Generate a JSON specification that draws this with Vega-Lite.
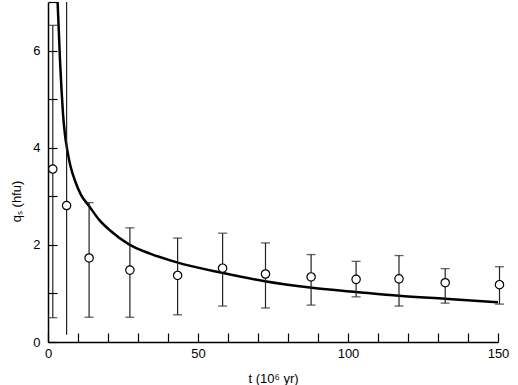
{
  "$schema": "https://vega.github.io/schema/vega-lite/v6.json",
  "width": 450,
  "height": 340,
  "autosize": {"type": "none"},
  "padding": {"left": 48, "top": 2, "right": 20, "bottom": 43},
  "background": "white",
  "config": {
    "view": {"stroke": null},
    "font": "Liberation Sans",
    "axis": {"grid": false, "domainColor": "black", "domainWidth": 1.5, "tickColor": "black", "tickWidth": 1.2, "labelColor": "black", "titleColor": "black", "labelFont": "Liberation Sans", "titleFont": "Liberation Sans", "labelFontSize": 13, "titleFontSize": 13, "titleFontWeight": "normal", "labelOverlap": false}
  },
  "datasets": {
    "curve": [
      {"t": 3.2, "q": 7.0}, {"t": 3.6, "q": 6.4}, {"t": 4.0, "q": 5.8}, {"t": 4.5, "q": 5.2},
      {"t": 5.0, "q": 4.7}, {"t": 5.6, "q": 4.3}, {"t": 6.4, "q": 3.96}, {"t": 7.5, "q": 3.62},
      {"t": 9.0, "q": 3.32}, {"t": 11.0, "q": 3.03}, {"t": 13.7, "q": 2.8}, {"t": 17, "q": 2.52},
      {"t": 21, "q": 2.28}, {"t": 27, "q": 2.01}, {"t": 34, "q": 1.82}, {"t": 43, "q": 1.64},
      {"t": 58.4, "q": 1.42}, {"t": 72.3, "q": 1.25}, {"t": 87.3, "q": 1.12}, {"t": 102.7, "q": 1.03},
      {"t": 117, "q": 0.95}, {"t": 132.3, "q": 0.89}, {"t": 150, "q": 0.82}
    ],
    "pts": [
      {"t": 1.6, "q": 3.56, "lo": 0.5, "hi": 6.52, "cap": true},
      {"t": 6.2, "q": 2.81, "lo": 0.15, "hi": 7.0, "cap": false},
      {"t": 13.7, "q": 1.73, "lo": 0.51, "hi": 2.87, "cap": true},
      {"t": 27.3, "q": 1.48, "lo": 0.51, "hi": 2.35, "cap": true},
      {"t": 43.2, "q": 1.37, "lo": 0.56, "hi": 2.14, "cap": true},
      {"t": 58.2, "q": 1.52, "lo": 0.74, "hi": 2.24, "cap": true},
      {"t": 72.5, "q": 1.4, "lo": 0.7, "hi": 2.04, "cap": true},
      {"t": 87.7, "q": 1.34, "lo": 0.76, "hi": 1.8, "cap": true},
      {"t": 102.7, "q": 1.29, "lo": 0.93, "hi": 1.66, "cap": true},
      {"t": 117, "q": 1.3, "lo": 0.74, "hi": 1.78, "cap": true},
      {"t": 132.4, "q": 1.22, "lo": 0.8, "hi": 1.51, "cap": true},
      {"t": 150.5, "q": 1.18, "lo": 0.78, "hi": 1.55, "cap": true}
    ]
  },
  "resolve": {"axis": {"x": "independent", "y": "independent"}},
  "layer": [
    {
      "data": {"name": "curve"},
      "mark": {"type": "line", "color": "black", "strokeWidth": 2.5, "interpolate": "monotone", "clip": true},
      "encoding": {
        "x": {"field": "t", "type": "quantitative", "scale": {"domain": [0, 150], "nice": false, "zero": true},
          "axis": {"orient": "bottom", "values": [0, 50, 100, 150], "tickSize": -9, "labelPadding": 14, "labelFlush": false, "title": "t (10⁶ yr)", "titlePadding": 12}},
        "y": {"field": "q", "type": "quantitative", "scale": {"domain": [0, 7], "nice": false},
          "axis": {"orient": "left", "values": [0, 2, 4, 6], "tickSize": -9, "labelPadding": 17, "title": "qₛ  (hfu)", "titleY": 199, "titleX": -25, "titleAngle": -90, "titleBaseline": "bottom", "titleAlign": "center"}}
      }
    },
    {
      "data": {"name": "pts"},
      "mark": {"type": "rule", "color": "#222", "strokeWidth": 1.2},
      "encoding": {
        "x": {"field": "t", "type": "quantitative",
          "axis": {"orient": "bottom", "values": [10,20,30,40,60,70,80,90,110,120,130,140], "labels": false, "domain": false, "tickSize": -9, "title": null}},
        "y": {"field": "lo", "type": "quantitative",
          "axis": {"orient": "left", "values": [1,3,5,7], "labels": false, "domain": false, "tickSize": -9, "title": null}},
        "y2": {"field": "hi"}
      }
    },
    {
      "data": {"name": "pts"},
      "transform": [{"filter": "datum.cap"}, {"fold": ["lo", "hi"], "as": ["end", "v"]}],
      "mark": {"type": "tick", "orient": "horizontal", "color": "#222", "size": 9, "thickness": 1.3},
      "encoding": {
        "x": {"field": "t", "type": "quantitative", "axis": null},
        "y": {"field": "v", "type": "quantitative", "axis": null}
      }
    },
    {
      "data": {"name": "pts"},
      "mark": {"type": "point", "shape": "circle", "filled": true, "fill": "white", "stroke": "black", "strokeWidth": 1.2, "size": 70, "opacity": 1},
      "encoding": {
        "x": {"field": "t", "type": "quantitative", "axis": null},
        "y": {"field": "q", "type": "quantitative", "axis": null}
      }
    }
  ]
}
